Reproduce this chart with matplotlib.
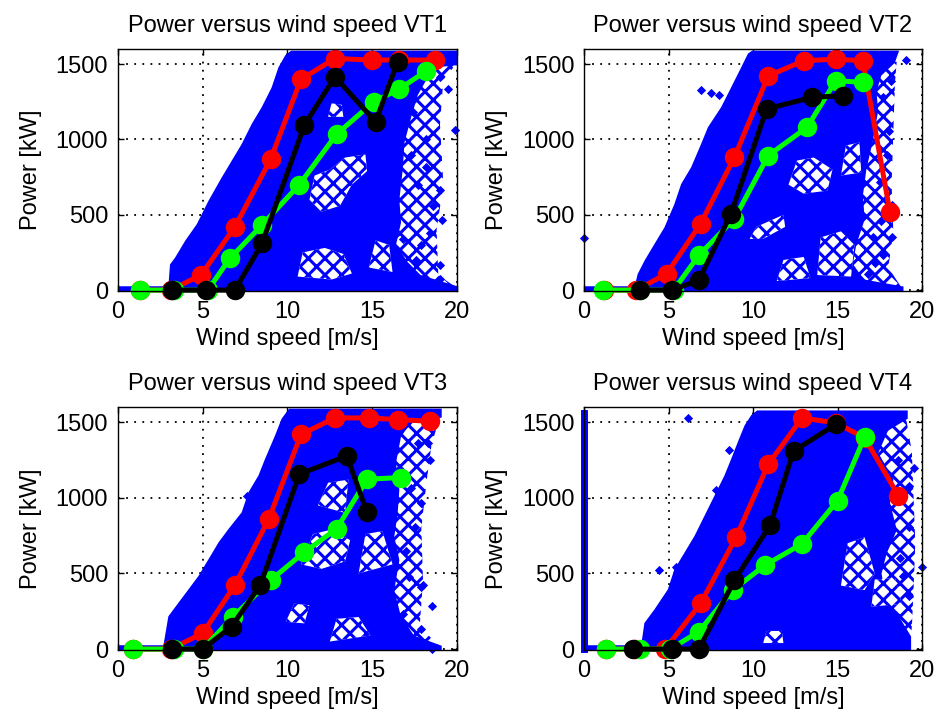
import matplotlib
matplotlib.use("Agg")
import matplotlib.pyplot as plt
from matplotlib.patches import Polygon

plt.rcParams['font.family'] = ['Liberation Sans', 'DejaVu Sans']
plt.rcParams['hatch.linewidth'] = 2.2

# ---- binned power curves (wind speed in m/s, power in kW) ----
vt1_red_ws = [1.3, 3.1, 4.9, 6.9, 9.0, 10.8, 12.8, 15.0, 16.6, 18.7]
vt1_red_kw = [0, 0, 100, 420, 867, 1400, 1537, 1527, 1527, 1527]
vt1_green_ws = [1.3, 3.3, 5.3, 6.6, 8.5, 10.7, 12.9, 15.1, 16.6, 18.2]
vt1_green_kw = [0, 0, 0, 210, 432, 700, 1035, 1250, 1335, 1455]
vt1_black_ws = [3.2, 5.2, 6.9, 8.5, 11.0, 12.8, 15.2, 16.5]
vt1_black_kw = [0, 0, 0, 310, 1095, 1416, 1117, 1515]

vt2_red_ws = [1.2, 3.1, 4.9, 6.9, 8.9, 10.9, 13.0, 14.9, 16.5, 18.1]
vt2_red_kw = [0, 0, 110, 441, 882, 1422, 1522, 1533, 1522, 518]
vt2_green_ws = [1.1, 3.3, 5.3, 6.8, 8.9, 10.9, 13.2, 14.9, 16.5]
vt2_green_kw = [0, 0, 0, 232, 474, 893, 1081, 1390, 1379]
vt2_black_ws = [3.3, 5.2, 6.8, 8.7, 10.8, 13.5, 15.3]
vt2_black_kw = [0, 0, 66, 507, 1202, 1280, 1290]

vt3_red_ws = [0.9, 3.1, 5.0, 6.9, 8.9, 10.8, 12.8, 14.8, 16.5, 18.4]
vt3_red_kw = [0, 0, 105, 423, 860, 1419, 1528, 1528, 1517, 1506]
vt3_green_ws = [0.9, 3.3, 5.0, 6.8, 9.0, 11.0, 12.9, 14.7, 16.7]
vt3_green_kw = [0, 0, 0, 215, 455, 641, 795, 1123, 1134]
vt3_black_ws = [3.2, 5.0, 6.7, 8.4, 10.7, 13.5, 14.7]
vt3_black_kw = [0, 0, 149, 423, 1156, 1277, 904]

vt4_red_ws = [1.3, 3.0, 4.8, 6.9, 9.0, 10.9, 12.9, 14.9, 16.6, 18.6]
vt4_red_kw = [0, 0, 0, 302, 740, 1222, 1528, 1495, 1397, 1014]
vt4_green_ws = [1.3, 3.3, 5.1, 6.8, 8.8, 10.7, 12.9, 15.0, 16.6]
vt4_green_kw = [0, 0, 0, 116, 390, 554, 696, 981, 1401]
vt4_black_ws = [2.9, 5.2, 6.8, 8.9, 11.0, 12.4, 14.9]
vt4_black_kw = [0, 0, 0, 455, 817, 1309, 1485]

# ---- measured samples: outline of the dense cloud ----
vt1_left_ws = [3.07, 3.17, 3.46, 4.05, 4.74, 5.43, 6.21, 6.80, 7.39, 7.98, 8.57, 9.16, 9.56, 9.95, 10.25]
vt1_left_kw = [14, 166, 210, 321, 432, 587, 742, 853, 964, 1097, 1208, 1340, 1473, 1551, 1578]
vt1_right_ws = [20.0, 20.0, 18.8, 18.2, 17.6, 17.2, 16.8, 16.7, 16.5, 16.6, 16.3, 17.0, 17.8, 20.0]
vt1_right_kw = [1578, 1505, 1490, 1420, 1300, 1150, 980, 800, 600, 450, 300, 180, 90, 14]
# thinner scatter beyond the dense edge
vt1_outer_ws = [20.0, 19.2, 19.0, 19.2, 18.8, 18.9, 20.0]
vt1_outer_kw = [1505, 1400, 1100, 700, 400, 100, 14]

vt2_left_ws = [3.08, 3.27, 3.67, 4.26, 4.85, 5.44, 5.84, 6.43, 7.02, 7.42, 8.2, 8.8, 9.39, 9.78, 9.98]
vt2_left_kw = [14, 102, 190, 301, 411, 566, 699, 810, 965, 1075, 1208, 1341, 1473, 1562, 1578]
vt2_right_ws = [18.5, 18.3, 17.5, 17.2, 17.3, 17.0, 16.6, 16.4, 16.5, 16.0, 15.8, 16.5, 18.8]
vt2_right_kw = [1578, 1515, 1430, 1320, 1190, 1000, 800, 630, 470, 300, 170, 60, 14]
vt2_outer_ws = [18.5, 18.4, 18.3, 18.2, 18.3, 18.0, 18.8]
vt2_outer_kw = [1515, 1380, 1050, 700, 380, 150, 14]

vt3_left_ws = [2.77, 3.07, 3.66, 4.25, 4.84, 5.43, 6.02, 6.61, 7.39, 7.79, 8.38, 8.77, 9.36, 9.75, 10.15]
vt3_left_kw = [14, 212, 301, 389, 478, 588, 699, 788, 898, 1031, 1142, 1252, 1407, 1518, 1578]
vt3_right_ws = [19.0, 19.0, 17.2, 16.6, 16.3, 16.5, 16.4, 16.2, 16.5, 16.2, 16.6, 17.4, 19.0]
vt3_right_kw = [1578, 1540, 1505, 1407, 1230, 1053, 898, 743, 588, 389, 212, 80, 14]
vt3_outer_ws = [19.0, 18.5, 18.2, 17.9, 18.0, 17.8, 19.0]
vt3_outer_kw = [1540, 1350, 1100, 800, 450, 150, 14]

vt4_left_ws = [3.47, 3.67, 4.26, 5.05, 5.44, 6.04, 6.63, 7.22, 7.81, 8.4, 8.8, 9.19, 9.59, 9.98, 10.28]
vt4_left_kw = [14, 168, 257, 389, 522, 633, 743, 876, 1009, 1142, 1252, 1363, 1473, 1540, 1566]
vt4_right_ws = [19.05, 19.05, 17.9, 17.3, 18.2, 18.0, 18.4, 17.8, 17.5, 17.8, 18.6, 19.25, 19.25]
vt4_right_kw = [1566, 1529, 1451, 1296, 1119, 965, 788, 633, 500, 300, 200, 80, 14]
vt4_outer_ws = [19.05, 19.4, 19.5, 19.6, 19.5, 19.4, 19.25]
vt4_outer_kw = [1529, 1300, 1000, 700, 400, 150, 14]

# thinned-out patches inside the cloud
vt1_holes = [
    [(11.3, 600), (11.6, 760), (12.5, 800), (13.4, 880), (14.6, 900), (14.7, 790), (13.8, 700), (13.1, 560), (12.0, 520)],
    [(10.6, 90), (10.9, 250), (12.2, 280), (13.3, 240), (13.8, 110), (12.6, 70)],
    [(12.4, 1150), (12.6, 1240), (13.2, 1230), (13.3, 1150)],
    [(14.8, 150), (15.2, 330), (16.0, 300), (16.2, 120)],
]
vt2_holes = [
    [(12.1, 700), (12.6, 860), (13.6, 880), (14.7, 800), (14.4, 660), (13.0, 640)],
    [(9.8, 340), (10.2, 420), (11.8, 500), (11.9, 420), (10.6, 340)],
    [(15.2, 760), (15.5, 960), (16.3, 980), (16.4, 780)],
    [(11.4, 60), (11.8, 200), (13.0, 220), (13.4, 80)],
    [(13.8, 100), (14.0, 350), (15.2, 390), (16.0, 300), (15.8, 90)],
]
vt3_holes = [
    [(10.8, 560), (11.5, 760), (12.6, 790), (13.7, 720), (13.4, 580), (12.0, 530)],
    [(11.8, 950), (12.4, 1100), (13.6, 1120), (13.4, 900)],
    [(9.9, 180), (10.4, 300), (11.3, 290), (11.0, 170)],
    [(12.5, 50), (12.9, 200), (14.2, 212), (14.9, 90)],
    [(14.2, 500), (14.6, 760), (15.6, 780), (16.2, 560)],
]
vt4_holes = [
    [(15.2, 420), (15.6, 700), (16.6, 740), (17.2, 500), (16.6, 390)],
    [(17.0, 280), (17.2, 460), (18.4, 470), (18.8, 300)],
    [(10.6, 40), (10.8, 120), (11.7, 120), (11.8, 40)],
]

# isolated samples
vt1_stray_ws = [19.0, 19.5, 19.9, 19.0, 19.1, 18.4, 19.0, 19.0, 17.6, 4.0, 18.2, 17.7, 17.3, 18.6, 16.8, 17.9, 18.2, 17.4]
vt1_stray_kw = [1416, 1338, 1062, 664, 465, 376, 166, 77, 199, 277, 820, 700, 900, 560, 340, 300, 1000, 1180]
vt2_stray_ws = [19.05, 18.15, 17.7, 18.07, 17.9, 17.5, 18.2, 17.1, 18.2, 17.7, 17.2, 16.8, 6.92, 8.0, 7.5, 0.0, 17.6]
vt2_stray_kw = [1529, 1390, 1280, 1053, 900, 720, 566, 353, 353, 232, 177, 110, 1330, 1296, 1310, 345, 460]
vt3_stray_ws = [18.3, 18.4, 17.7, 17.3, 17.9, 17.5, 18.0, 18.5, 17.9, 17.2, 16.8, 18.5, 4.05, 7.6, 17.0, 17.9]
vt3_stray_kw = [1363, 1252, 1363, 1066, 965, 810, 424, 283, 412, 478, 235, 0, 301, 1010, 650, 130]
vt4_stray_ws = [6.13, 20.0, 19.25, 19.25, 8.6, 7.8, 4.46, 5.44, 18.9, 19.2, 18.7, 19.5, 18.6]
vt4_stray_kw = [1529, 544, 1075, 810, 1319, 1053, 522, 544, 480, 350, 600, 1200, 1250]

# VT4 logs a column of samples at zero wind speed
vt4_zero_kw = [0, 1560]

titles = ["Power versus wind speed VT1", "Power versus wind speed VT2",
          "Power versus wind speed VT3", "Power versus wind speed VT4"]

panels = [
    (vt1_red_ws, vt1_red_kw, vt1_green_ws, vt1_green_kw, vt1_black_ws, vt1_black_kw,
     vt1_left_ws, vt1_left_kw, vt1_right_ws, vt1_right_kw, vt1_outer_ws, vt1_outer_kw,
     vt1_holes, vt1_stray_ws, vt1_stray_kw),
    (vt2_red_ws, vt2_red_kw, vt2_green_ws, vt2_green_kw, vt2_black_ws, vt2_black_kw,
     vt2_left_ws, vt2_left_kw, vt2_right_ws, vt2_right_kw, vt2_outer_ws, vt2_outer_kw,
     vt2_holes, vt2_stray_ws, vt2_stray_kw),
    (vt3_red_ws, vt3_red_kw, vt3_green_ws, vt3_green_kw, vt3_black_ws, vt3_black_kw,
     vt3_left_ws, vt3_left_kw, vt3_right_ws, vt3_right_kw, vt3_outer_ws, vt3_outer_kw,
     vt3_holes, vt3_stray_ws, vt3_stray_kw),
    (vt4_red_ws, vt4_red_kw, vt4_green_ws, vt4_green_kw, vt4_black_ws, vt4_black_kw,
     vt4_left_ws, vt4_left_kw, vt4_right_ws, vt4_right_kw, vt4_outer_ws, vt4_outer_kw,
     vt4_holes, vt4_stray_ws, vt4_stray_kw),
]

# axes rectangles in figure fractions (left, bottom, width, height)
rects = [
    (0.1255, 0.5947, 0.3606, 0.3370),
    (0.6213, 0.5947, 0.3596, 0.3370),
    (0.1255, 0.0947, 0.3606, 0.3384),
    (0.6213, 0.0947, 0.3596, 0.3384),
]

fig = plt.figure(figsize=(9.4, 7.18), dpi=100)
fs = 17

for i in range(4):
    (r_ws, r_kw, g_ws, g_kw, b_ws, b_kw, l_ws, l_kw, rt_ws, rt_kw,
     o_ws, o_kw, holes, s_ws, s_kw) = panels[i]
    ax = fig.add_axes(rects[i])

    # sparse fringe to the right of the dense band (crossed pattern of samples)
    fringe = list(zip(rt_ws[1:], rt_kw[1:])) + list(zip(o_ws, o_kw))[::-1]
    ax.add_patch(Polygon(fringe, closed=True, facecolor='white', edgecolor='blue',
                         linewidth=0, hatch='xx', zorder=1.9))

    # dense cloud: zero-power row plus the main band
    outline = [(0, -20), (0, 14)] + list(zip(l_ws, l_kw)) + list(zip(rt_ws, rt_kw)) + [(rt_ws[-1], -20)]
    ax.add_patch(Polygon(outline, closed=True, facecolor='blue', edgecolor='blue',
                         linewidth=2.5, zorder=2))
    for h in holes:
        ax.add_patch(Polygon(h, closed=True, facecolor='white', edgecolor='blue',
                             linewidth=0, hatch='xx', zorder=2.1))
    ax.scatter(s_ws, s_kw, marker='D', s=22, color='blue', linewidths=0, zorder=2.2, clip_on=False)
    if i == 3:
        ax.plot([0, 0], vt4_zero_kw, color='blue', lw=5, zorder=2.2, clip_on=False)

    kw = dict(marker='o', lw=3.6, ms=8, mew=6, mfc='none', clip_on=False)
    ax.plot(r_ws, r_kw, color='#ff0000', mec='#ff0000', zorder=3, **kw)
    ax.plot(g_ws, g_kw, color='#00ff00', mec='#00ff00', zorder=4, **kw)
    ax.plot(b_ws, b_kw, color='black', mec='black', zorder=5, **kw)

    ax.set_xlim(0, 20)
    ax.set_ylim(-6, 1600)
    ax.set_xticks([0, 5, 10, 15, 20])
    ax.set_yticks([0, 500, 1000, 1500])
    ax.grid(True, color='black', linestyle=(0, (1, 3.5)), linewidth=1.3)
    ax.set_axisbelow(True)
    ax.tick_params(direction='in', length=4, width=1, top=True, right=True,
                   labelsize=fs, pad=7)
    for sp in ax.spines.values():
        sp.set_linewidth(1.0)
        sp.set_zorder(6)
    ax.set_title(titles[i], fontsize=fs, pad=12)
    ax.set_xlabel("Wind speed [m/s]", fontsize=fs, labelpad=4)
    ax.set_ylabel("Power [kW]", fontsize=fs, labelpad=10)

fig.savefig("out.png", dpi=100)
